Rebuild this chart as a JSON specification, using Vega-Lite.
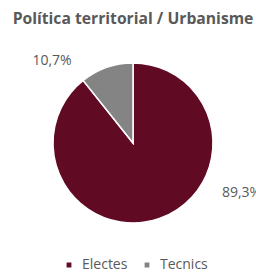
{
  "$schema": "https://vega.github.io/schema/vega-lite/v6.json",
  "width": 266,
  "height": 206,
  "autosize": "none",
  "padding": {"left": 0, "top": 40, "right": 0, "bottom": 29},
  "background": "white",
  "title": {
    "text": "Política territorial / Urbanisme",
    "font": "Open Sans",
    "fontSize": 15.7,
    "fontWeight": "bold",
    "color": "#595959",
    "anchor": "middle",
    "frame": "group",
    "offset": 12
  },
  "data": {
    "values": [
      {"cat": "Electes", "value": 89.3, "label": "89,3%"},
      {"cat": "Tecnics", "value": 10.7, "label": "10,7%"}
    ]
  },
  "encoding": {
    "theta": {"field": "value", "type": "quantitative", "stack": true},
    "order": {"field": "cat", "type": "ordinal", "sort": "ascending"}
  },
  "layer": [
    {
      "mark": {"type": "arc", "outerRadius": 80, "stroke": "white", "strokeWidth": 1.5},
      "encoding": {
        "color": {
          "field": "cat",
          "type": "nominal",
          "scale": {"domain": ["Electes", "Tecnics"], "range": ["#600A24", "#848484"]},
          "legend": {
            "orient": "none",
            "legendX": 62,
            "legendY": 218,
            "direction": "horizontal",
            "title": null,
            "symbolType": "square",
            "symbolSize": 40,
            "labelFont": "Open Sans",
            "labelFontSize": 14,
            "labelColor": "#595959",
            "labelOffset": 6,
            "columnPadding": 12
          }
        }
      }
    },
    {
      "mark": {"type": "text", "radius": 100, "dx": -48, "dy": 12, "font": "Open Sans", "fontSize": 14, "color": "#595959", "align": "center", "baseline": "middle"},
      "encoding": {
        "text": {"condition": {"test": "datum.cat === 'Tecnics'", "field": "label"}, "value": ""}
      }
    },
    {
      "mark": {"type": "text", "radius": 50, "dx": 92, "dy": 3, "font": "Open Sans", "fontSize": 14, "color": "#595959", "align": "center", "baseline": "middle"},
      "encoding": {
        "text": {"condition": {"test": "datum.cat === 'Electes'", "field": "label"}, "value": ""}
      }
    }
  ]
}
